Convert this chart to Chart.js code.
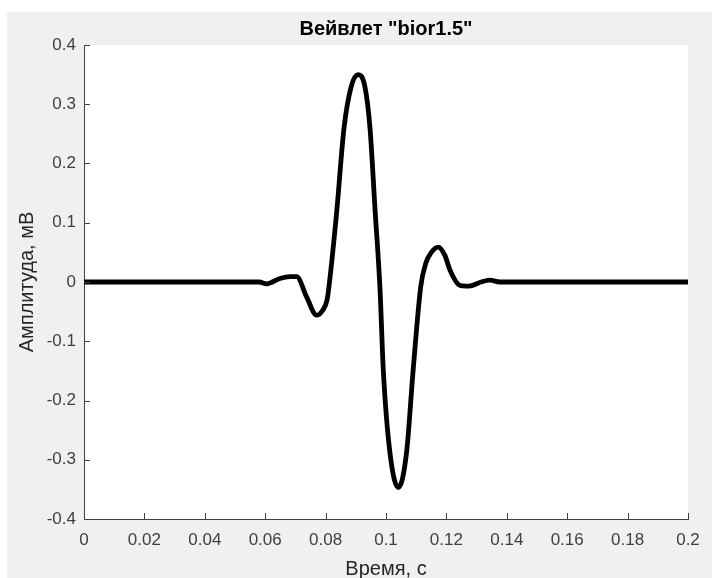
<!DOCTYPE html>
<html>
<head>
<meta charset="utf-8">
<script src="https://cdn.jsdelivr.net/npm/chart.js@4"></script>
<style>
  html, body { margin: 0; padding: 0; background: #ffffff; }
  #wrap { width: 712px; height: 578px; }
</style>
</head>
<body>
<div id="wrap"><canvas id="chart" width="712" height="578"></canvas></div>
<script>
// wavelet samples
const timeS = [0, 0.058, 0.0605, 0.0649, 0.0682, 0.0704, 0.0737, 0.0770, 0.0790, 0.0805, 0.0813,
    0.0837, 0.0861, 0.0885, 0.0908, 0.0930, 0.0947, 0.0964, 0.0980, 0.0991, 0.1013, 0.1041,
    0.1068, 0.1090, 0.1115, 0.1132, 0.1150, 0.1173, 0.1195, 0.1212, 0.1245, 0.1265, 0.1284,
    0.1315, 0.1344, 0.1377, 0.2];
const amplitudeMV = [0, 0, -0.003, 0.006, 0.009, 0.009, -0.025, -0.056, -0.048, -0.03, 0.0,
    0.12, 0.26, 0.33, 0.35, 0.33, 0.26, 0.12, -0.01, -0.148, -0.288, -0.347,
    -0.288, -0.148, -0.008, 0.032, 0.05, 0.059, 0.045, 0.02, -0.006, -0.007, -0.006,
    0.0, 0.003, 0, 0];
const xTicks = [0, 0.02, 0.04, 0.06, 0.08, 0.1, 0.12, 0.14, 0.16, 0.18, 0.2];
const yTicks = [-0.4, -0.3, -0.2, -0.1, 0, 0.1, 0.2, 0.3, 0.4];
const chartTitle = 'Вейвлет "bior1.5"';

const points = timeS.map((t, i) => ({ x: t, y: amplitudeMV[i] }));
const fmt = v => String(Number(v.toFixed(2)));

// figure background (grey frame, white axes area), title over the axes, inward ticks like MATLAB
const matlabLook = {
    id: 'matlabLook',
    beforeDraw(chart) {
        const ctx = chart.ctx;
        const a = chart.chartArea;
        ctx.save();
        ctx.fillStyle = '#ffffff';
        ctx.fillRect(0, 0, chart.width, chart.height);
        ctx.fillStyle = '#f0f0f0';
        ctx.fillRect(7, 12, chart.width - 7, chart.height - 12);
        ctx.fillStyle = '#ffffff';
        ctx.fillRect(a.left, a.top, a.right - a.left, a.bottom - a.top);
        ctx.restore();
    },
    afterDraw(chart) {
        const ctx = chart.ctx;
        const a = chart.chartArea;
        const xs = chart.scales.x, ys = chart.scales.y;
        ctx.save();
        ctx.strokeStyle = '#404040';
        ctx.lineWidth = 1;
        ctx.beginPath();
        xTicks.forEach(v => {
            const px = Math.round(xs.getPixelForValue(v)) + 0.5;
            ctx.moveTo(px, a.bottom);
            ctx.lineTo(px, a.bottom - 6);
        });
        yTicks.forEach(v => {
            const py = Math.round(ys.getPixelForValue(v)) + 0.5;
            ctx.moveTo(a.left, py);
            ctx.lineTo(a.left + 6, py);
        });
        ctx.stroke();

        ctx.fillStyle = '#000000';
        ctx.font = 'bold 20px "Liberation Sans"';
        ctx.textAlign = 'center';
        ctx.textBaseline = 'middle';
        ctx.fillText(chartTitle, (a.left + a.right) / 2, 29);
        ctx.restore();
    }
};

new Chart(document.getElementById('chart').getContext('2d'), {
    type: 'scatter',
    data: {
        datasets: [{
            data: points,
            showLine: true,
            borderColor: '#000000',
            borderWidth: 4.8,
            pointRadius: 0,
            cubicInterpolationMode: 'monotone',
            fill: false
        }]
    },
    options: {
        responsive: false,
        animation: false,
        layout: { padding: { left: 0, right: 24, top: 45, bottom: 0 } },
        plugins: {
            legend: { display: false },
            tooltip: { enabled: false },
            title: { display: false }
        },
        scales: {
            x: {
                type: 'linear',
                min: 0,
                max: 0.2,
                afterBuildTicks: s => { s.ticks = xTicks.map(v => ({ value: v })); },
                afterFit: s => { s.height = 59; },
                ticks: {
                    autoSkip: false,
                    maxRotation: 0,
                    padding: 11,
                    color: '#404040',
                    font: { family: 'Liberation Sans', size: 17 },
                    callback: v => fmt(v)
                },
                grid: { display: false, drawTicks: false },
                border: { display: true, color: '#404040', width: 1 },
                title: {
                    display: true,
                    text: 'Время, с',
                    color: '#262626',
                    font: { family: 'Liberation Sans', size: 20, lineHeight: 0.9 },
                    padding: { top: 0, bottom: 0 }
                }
            },
            y: {
                type: 'linear',
                min: -0.4,
                max: 0.4,
                afterBuildTicks: s => { s.ticks = yTicks.map(v => ({ value: v })); },
                afterFit: s => { s.width = 84; },
                ticks: {
                    autoSkip: false,
                    padding: 8,
                    color: '#404040',
                    font: { family: 'Liberation Sans', size: 17 },
                    callback: v => fmt(v)
                },
                grid: { display: false, drawTicks: false },
                border: { display: true, color: '#404040', width: 1 },
                title: {
                    display: true,
                    text: 'Амплитуда, мВ',
                    color: '#262626',
                    font: { family: 'Liberation Sans', size: 20, lineHeight: 1.2 },
                    padding: { top: 15, bottom: 0 }
                }
            }
        }
    },
    plugins: [matlabLook]
});
</script>
</body>
</html>
